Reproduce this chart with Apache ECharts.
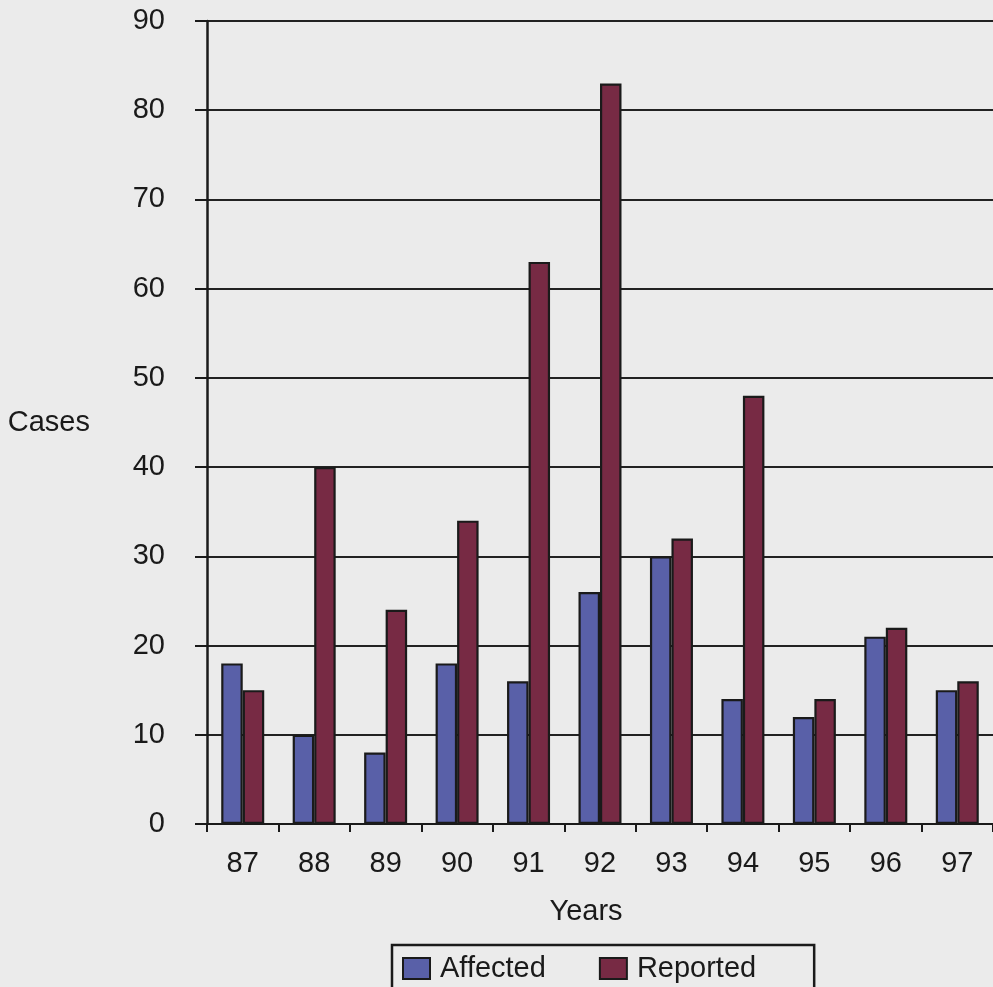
<!DOCTYPE html>
<html>
<head>
<meta charset="utf-8">
<script src="https://cdn.jsdelivr.net/npm/echarts@6/dist/echarts.min.js"></script>
<style>
  html, body { margin: 0; padding: 0; background: #ebebeb; }
  #chart { width: 993px; height: 987px; }
</style>
</head>
<body>
<div id="chart"></div>
<script>
// Yearly counts of affected vs reported cases
const years = ['87', '88', '89', '90', '91', '92', '93', '94', '95', '96', '97'];
const affected = [18, 10, 8, 18, 16, 26, 30, 14, 12, 21, 15];
const reported = [15, 40, 24, 34, 63, 83, 32, 48, 14, 22, 16];
const yTicks = { min: 0, max: 90, interval: 10 };

const FONT = 'Liberation Sans, Arial, sans-serif';
const INK = '#1a1a1a';
const FS = 29;

const chart = echarts.init(document.getElementById('chart'), null, { renderer: 'canvas' });

chart.setOption({
  backgroundColor: '#ebebeb',
  animation: false,
  textStyle: { fontFamily: FONT, color: INK },
  grid: { left: 207, top: 21, width: 790, height: 803, containLabel: false },
  legend: {
    left: 392,
    top: 945,
    padding: [9, 58, 20, 10],
    itemWidth: 27,
    itemHeight: 21,
    itemGap: 53,
    borderColor: INK,
    borderWidth: 2.5,
    backgroundColor: '#ebebeb',
    textStyle: { fontFamily: FONT, fontSize: FS, color: INK, padding: [0, 0, 0, 5] },
    data: [
      { name: 'Affected', icon: 'rect' },
      { name: 'Reported', icon: 'rect' }
    ]
  },
  xAxis: {
    type: 'category',
    data: years,
    name: 'Years',
    nameLocation: 'middle',
    nameGap: 73,
    nameTextStyle: { fontFamily: FONT, fontSize: FS, color: INK, padding: [0, 28, 0, 0] },
    axisLine: { lineStyle: { color: INK, width: 2 } },
    axisTick: { show: true, length: 8, lineStyle: { color: INK, width: 2 } },
    axisLabel: { fontFamily: FONT, fontSize: FS, color: INK, margin: 25 }
  },
  yAxis: {
    type: 'value',
    min: yTicks.min,
    max: yTicks.max,
    interval: yTicks.interval,
    name: 'Cases',
    nameLocation: 'middle',
    nameRotate: 0,
    nameGap: 117,
    nameTextStyle: { fontFamily: FONT, fontSize: FS, color: INK },
    axisLine: { show: true, lineStyle: { color: INK, width: 2.5 } },
    axisTick: { show: true, length: 12, lineStyle: { color: INK, width: 2 } },
    axisLabel: { fontFamily: FONT, fontSize: FS, color: INK, margin: 42 },
    splitLine: { show: true, lineStyle: { color: '#222222', width: 1.8 } }
  },
  series: [
    {
      name: 'Affected',
      type: 'bar',
      data: affected,
      barWidth: 21.5,
      barGap: '0%',
      itemStyle: { color: '#5960a8', borderColor: INK, borderWidth: 2.2 }
    },
    {
      name: 'Reported',
      type: 'bar',
      data: reported,
      barWidth: 21.5,
      barGap: '0%',
      itemStyle: { color: '#772a44', borderColor: INK, borderWidth: 2.2 }
    }
  ]
});
</script>
</body>
</html>
